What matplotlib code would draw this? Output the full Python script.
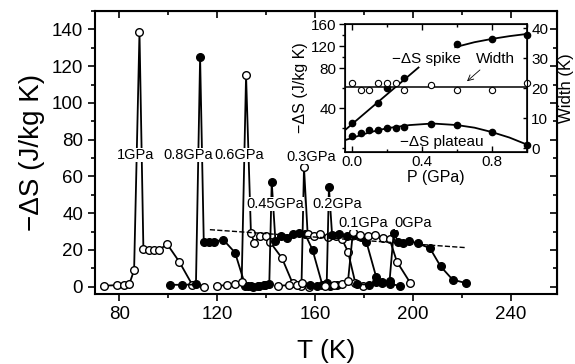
import numpy as np
import matplotlib.pyplot as plt
from matplotlib.ticker import MultipleLocator, FixedLocator

plt.rcParams['font.family'] = ['Liberation Sans', 'DejaVu Sans']

# main panel: -dS vs T for each pressure (open / filled alternate)
T_1 = [73.5, 78.8, 82.0, 84.0, 86.0, 88.2, 89.8, 92.0, 94.0, 96.0, 99.6, 104.5, 109.8, 114.7]
S_1 = [0.5, 0.8, 1.0, 1.2, 9.0, 138.5, 20.5, 20.0, 20.0, 20.0, 23.0, 13.5, 1.0, 0.0]

T_08 = [100.5, 105.5, 111.3, 113.0, 114.5, 116.5, 118.5, 122.5, 127.3, 131.5, 134.0, 136.5, 139.0]
S_08 = [1.0, 1.0, 1.2, 125.0, 24.5, 24.5, 24.5, 25.5, 18.5, 0.5, 0.3, 0.5, 0.8]

T_06 = [119.8, 124.0, 127.3, 130.0, 131.8, 133.8, 135.2, 137.5, 139.8, 141.5, 146.5, 150.8, 154.3, 157.5]
S_06 = [0.5, 0.8, 1.5, 2.5, 115.0, 29.0, 24.0, 27.8, 27.6, 24.5, 15.5, 2.0, 0.5, 0.0]

T_045 = [132.5, 134.5, 137.0, 139.5, 141.3, 142.3, 143.8, 146.0, 148.5, 151.0, 153.5, 156.0, 159.0, 163.0, 166.0, 169.0]
S_045 = [0.3, 0.0, 0.3, 0.8, 1.5, 57.0, 25.0, 27.5, 26.5, 28.5, 29.0, 28.5, 20.0, 1.0, 0.5, 0.8]

T_03 = [145.0, 149.5, 152.5, 154.5, 155.5, 157.0, 159.5, 162.0, 165.5, 168.5, 171.0, 173.5, 176.5, 179.5]
S_03 = [0.5, 0.8, 1.0, 2.0, 65.0, 28.5, 27.5, 28.5, 27.0, 27.5, 26.0, 19.0, 2.0, 0.5]

T_02 = [158.0, 161.0, 163.5, 164.8, 165.7, 167.0, 170.0, 173.0, 176.5, 179.0, 181.0, 185.0, 187.5, 190.5, 194.7]
S_02 = [0.8, 0.5, 1.0, 2.0, 54.0, 28.0, 28.5, 27.5, 28.0, 27.0, 24.5, 5.4, 2.0, 1.5, 0.5]

T_01 = [164.0, 167.8, 171.0, 173.5, 175.5, 178.5, 181.5, 184.5, 188.0, 190.5, 193.5, 199.0]
S_01 = [0.5, 1.0, 1.5, 3.0, 29.5, 28.0, 27.5, 28.0, 26.5, 26.0, 13.6, 2.0]

T_0 = [177.0, 182.0, 185.0, 187.5, 190.5, 192.2, 194.0, 196.0, 198.4, 202.0, 207.0, 211.4, 216.3, 221.6]
S_0 = [1.5, 1.0, 2.5, 2.5, 3.0, 29.3, 24.5, 24.0, 25.0, 23.5, 21.0, 11.0, 3.8, 2.0]

dash_T = [117, 222]
dash_S = [31, 21.2]

labels = ['1GPa', '0.8GPa', '0.6GPa', '0.3GPa', '0.45GPa', '0.2GPa', '0.1GPa', '0GPa']

# inset: spike, plateau and width vs pressure
P_spike = [0.0, 0.15, 0.2, 0.3, 0.6, 0.8, 1.0]
S_spike = [25, 45, 60, 70, 124, 133, 140]
P_spike_fit_lo = [-0.04, 0.38]
S_spike_fit_lo = [18, 81]
P_spike_fit_hi = [0.59, 0.7, 0.8, 0.9, 1.0]
S_spike_fit_hi = [118, 127, 133, 138, 142]

P_w = [0.0, 0.05, 0.1, 0.15, 0.2, 0.25, 0.3, 0.45, 0.6, 0.8, 1.0]
W = [21.7, 19.3, 19.3, 21.7, 21.7, 21.7, 19.3, 21.0, 19.3, 19.3, 21.7]
W_fit = 20.2

P_plat = [0.0, 0.05, 0.1, 0.15, 0.2, 0.25, 0.3, 0.45, 0.6, 0.8, 1.0]
S_plat = [23.8, 24.9, 26.1, 26.1, 26.8, 26.8, 27.2, 28.4, 28.0, 25.3, 20.3]
P_plat_fit = [-0.04, 0.1, 0.2, 0.33, 0.46, 0.6, 0.7, 0.8, 0.9, 1.0]
S_plat_fit = [22.2, 25.2, 26.8, 28.0, 28.6, 28.0, 27.0, 25.3, 23.2, 20.5]

series = [(T_1, S_1, False), (T_08, S_08, True), (T_06, S_06, False), (T_045, S_045, True),
          (T_03, S_03, False), (T_02, S_02, True), (T_01, S_01, False), (T_0, S_0, True)]

fig = plt.figure(figsize=(5.75, 3.64), dpi=100)
ax = fig.add_axes([0.1652, 0.1923, 0.8035, 0.7775])

for T, S, filled in series:
    ax.plot(T, S, '-o', color='k', lw=1.3, ms=5.5, mec='k', mew=1,
            mfc='k' if filled else 'white')
ax.plot(dash_T, dash_S, '--', color='k', lw=1)

label_pos = [(86.8, 71.7), (108.2, 71.7), (129.0, 71.7), (158.6, 70.7),
             (143.6, 45), (169.0, 45), (179.8, 34.8), (200.3, 34.8)]
for txt, (x, y) in zip(labels, label_pos):
    ax.text(x, y, txt, ha='center', va='center', fontsize=10.5,
            bbox=dict(facecolor='white', edgecolor='none', pad=0.05))

ax.set_xlim(70, 259)
ax.set_ylim(-4, 150)
ax.xaxis.set_major_locator(MultipleLocator(40))
ax.xaxis.set_minor_locator(MultipleLocator(20))
ax.yaxis.set_major_locator(MultipleLocator(20))
ax.yaxis.set_minor_locator(MultipleLocator(10))
ax.tick_params(which='major', length=5, width=1.2, labelsize=13.5, direction='out')
ax.tick_params(which='minor', length=3, width=1.2, direction='out')
for sp in ax.spines.values():
    sp.set_linewidth(1.5)

top = ax.secondary_xaxis('top')
top.xaxis.set_major_locator(MultipleLocator(40))
top.xaxis.set_minor_locator(MultipleLocator(20))
top.tick_params(which='both', direction='in', labeltop=False, width=1.2)
top.tick_params(which='major', length=5)
top.tick_params(which='minor', length=3)
right = ax.secondary_yaxis('right')
right.yaxis.set_major_locator(MultipleLocator(20))
right.yaxis.set_minor_locator(MultipleLocator(10))
right.tick_params(which='both', direction='in', labelright=False, width=1.2)
right.tick_params(which='major', length=5)
right.tick_params(which='minor', length=3)

ax.set_xlabel('T (K)', fontsize=19, labelpad=12)
ax.set_ylabel('\u2212\u0394S (J/kg K)', fontsize=20, labelpad=5)

# inset
axin = fig.add_axes([0.600, 0.582, 0.3165, 0.352], facecolor='white')


def fwd(v):
    v = np.asarray(v, dtype=float)
    return np.where(v <= 80, v, 80 + (v - 80) * 0.55)


def inv(u):
    u = np.asarray(u, dtype=float)
    return np.where(u <= 80, u, 80 + (u - 80) / 0.55)


axin.set_yscale('function', functions=(fwd, inv))
axin.plot(P_spike_fit_lo, S_spike_fit_lo, '-', color='k', lw=1.3)
axin.plot(P_spike_fit_hi, S_spike_fit_hi, '-', color='k', lw=1.3)
axin.plot(P_spike, S_spike, 'o', color='k', ms=4.5, clip_on=False)
axin.set_xlim(-0.04, 1.0)
axin.set_ylim(-4, 160)
axin.yaxis.set_major_locator(FixedLocator([40, 80, 120, 160]))
axin.yaxis.set_minor_locator(FixedLocator([0, 20, 60, 100, 140]))
axin.xaxis.set_major_locator(FixedLocator([0.0, 0.4, 0.8]))
axin.xaxis.set_minor_locator(FixedLocator([0.2, 0.6, 1.0]))
axin.xaxis.set_major_formatter(plt.FormatStrFormatter('%.1f'))
axin.tick_params(which='major', length=4, width=1, labelsize=11, pad=2)
axin.tick_params(which='minor', length=2.5, width=1)
axin.tick_params(axis='x', which='both', top=True, direction='in')
axin.set_xlabel('P (GPa)', fontsize=11.5, labelpad=1)
axin.set_ylabel('\u2212\u0394S (J/kg K)', fontsize=11.5, labelpad=2)
for sp in axin.spines.values():
    sp.set_linewidth(1.2)

axw = axin.twinx()
axw.axhline(W_fit, color='k', lw=1.1)
axw.plot(P_w, W, 'o', ms=4.5, mfc='white', mec='k', mew=0.8, clip_on=False)
axw.set_ylim(-1.33, 41.33)
axw.yaxis.set_major_locator(MultipleLocator(10))
axw.tick_params(which='major', length=3, width=1, labelsize=11, pad=3, direction='in')
axw.set_ylabel('Width (K)', fontsize=12, labelpad=8)

axp = axin.twinx()
axp.plot(P_plat_fit, S_plat_fit, '-', color='k', lw=1.3)
axp.plot(P_plat, S_plat, 'o', color='k', ms=4.5, clip_on=False)
axp.set_ylim(17.6, 66.8)
axp.axis('off')

axin.text(0.45, 0.727, '\u2212\u0394S spike', transform=axin.transAxes, ha='center', va='center', fontsize=11)
axin.text(0.824, 0.727, 'Width', transform=axin.transAxes, ha='center', va='center', fontsize=11)
axin.annotate('', xy=(0.659, 0.539), xytext=(0.753, 0.656), xycoords='axes fraction',
              arrowprops=dict(arrowstyle='->', color='k', lw=0.6))
axin.text(0.533, 0.078, '\u2212\u0394S plateau', transform=axin.transAxes, ha='center', va='center', fontsize=11)

fig.savefig('out.png', dpi=100)
